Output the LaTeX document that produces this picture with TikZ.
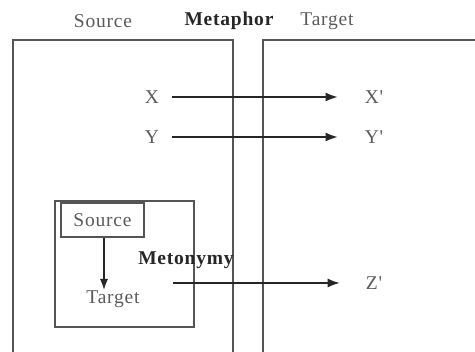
\documentclass[tikz,border=0pt]{standalone}
\usepackage{fontspec}
\setmainfont{Liberation Serif}
\newfontfamily\spaced[LetterSpace=4]{Liberation Serif}
\usetikzlibrary{arrows.meta}
\definecolor{linegray}{HTML}{555555}
\definecolor{textgray}{HTML}{5A5A5A}
\tikzset{
  frame/.style={draw=linegray, line width=2pt},
  thinframe/.style={draw=linegray, line width=1.6pt},
  lbl/.style={text=textgray, font=\spaced\fontsize{19.5}{22}\selectfont, inner sep=0pt},
  blbl/.style={text=black!85, font=\spaced\bfseries\fontsize{19.5}{22}\selectfont, inner sep=0pt},
  arr/.style={draw=black!85, line width=1.4pt, -{Latex[length=12pt,width=9pt]}}
}
\begin{document}
\begin{tikzpicture}[x=1pt,y=-1pt]
\useasboundingbox (0,0) rectangle (475,352);
% outer frames (open at bottom)
\draw[frame] (12.5,352) -- (12.5,40) -- (233,40) -- (233,352);
\draw[frame] (263,352) -- (263,40) -- (476,40);
% headings
\node[lbl] (hsrc) at (103,21) {Source};
\node[blbl] (hmet) at (229,21) {Metaphor};
\node[lbl] (htgt) at (327,21) {Target};
% X and Y
\node[lbl] (X) at (152,97) {X};
\node[lbl] (Xp) at (374,97) {X'};
\node[lbl] (Y) at (152,137) {Y};
\node[lbl] (Yp) at (374,137) {Y'};
\draw[arr, shorten <=13pt, shorten >=27pt] (X) -- (Xp);
\draw[arr, shorten <=13pt, shorten >=27pt] (Y) -- (Yp);
% metonymy box
\draw[thinframe] (55,201) rectangle (194,327);
\node[draw=linegray, line width=1.6pt, minimum width=83pt, minimum height=34pt, lbl] (msrc) at (102.5,220) {Source};
\node[lbl] (mtgt) at (113,299) {Target};
\draw[arr, -{Latex[length=11pt,width=8pt]}] (msrc.south -| 104,0) -- (104,290) coordinate (mend);
\node[blbl] (meto) at (186,260) {Metonymy};
\coordinate (zs) at (173,283);
\node[lbl] (Zp) at (374,283) {Z'};
\draw[arr, shorten >=26pt] (zs) -- (Zp);
\end{tikzpicture}
\end{document}
